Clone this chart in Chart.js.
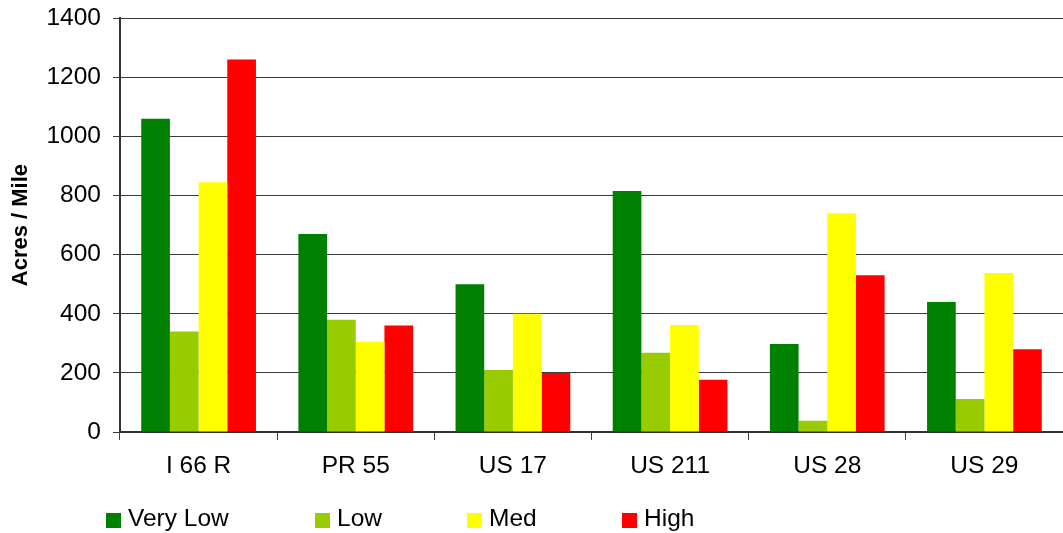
<!DOCTYPE html>
<html>
<head>
<meta charset="utf-8">
<script src="https://cdn.jsdelivr.net/npm/chart.js@4/dist/chart.umd.min.js"></script>
<style>
  html, body { margin: 0; padding: 0; background: #fff; }
  #wrap { width: 1063px; height: 533px; position: relative; }
</style>
</head>
<body>
<div id="wrap"><canvas id="chart"></canvas></div>
<script>
// routes and acreage per mile by class
const routes = ["I 66 R", "PR 55", "US 17", "US 211", "US 28", "US 29"];
const veryLow = [1060, 670, 500, 815, 298, 440];
const low = [340, 380, 210, 268, 38, 112];
const med = [845, 305, 400, 362, 740, 538];
const high = [1260, 360, 200, 177, 530, 280];
const classNames = ["Very Low", "Low", "Med", "High"];
const classColors = ["#008000", "#99CC00", "#FFFF00", "#FF0000"];

const font = "'Liberation Sans', Arial, sans-serif";
const legendX = [106, 315, 467, 622];

// legend row drawn under the category labels
const bottomLegend = {
  id: "bottomLegend",
  afterDraw(chart) {
    const ctx = chart.ctx;
    ctx.save();
    ctx.font = "24.5px " + font;
    ctx.textBaseline = "middle";
    chart.data.datasets.forEach((ds, i) => {
      const x = legendX[i];
      ctx.fillStyle = ds.backgroundColor;
      ctx.fillRect(x, 513, 15, 15);
      ctx.fillStyle = "#000";
      ctx.fillText(ds.label, x + 22, 519);
    });
    ctx.restore();
  }
};

const series = [veryLow, low, med, high];

new Chart(document.getElementById("chart"), {
  type: "bar",
  data: {
    labels: routes,
    datasets: series.map((vals, i) => ({
      label: classNames[i],
      data: vals,
      backgroundColor: classColors[i],
      borderWidth: 0,
      categoryPercentage: 0.73,
      barPercentage: 1
    }))
  },
  options: {
    responsive: true,
    maintainAspectRatio: false,
    animation: false,
    layout: { padding: { top: 17, right: 0, bottom: 0, left: 0 } },
    plugins: {
      legend: { display: false },
      tooltip: { enabled: false }
    },
    scales: {
      x: {
        grid: {
          offset: true,
          drawOnChartArea: false,
          drawTicks: true,
          tickLength: 8,
          color: "#444"
        },
        border: { color: "#333", width: 2 },
        ticks: {
          color: "#000",
          font: { family: font, size: 24.5 },
          padding: 12
        },
        afterFit(scale) { scale.height = 101; }
      },
      y: {
        min: 0,
        max: 1400,
        ticks: {
          stepSize: 200,
          color: "#000",
          font: { family: font, size: 24.5, lineHeight: 0.5 },
          padding: 12,
          callback: (v) => String(v)
        },
        grid: {
          color: "#3a3a3a",
          tickLength: 7
        },
        border: { color: "#333", width: 2 },
        title: {
          display: true,
          text: "Acres / Mile",
          color: "#000",
          font: { family: font, size: 22, weight: "bold" },
          padding: { top: 8, bottom: 0 }
        },
        afterFit(scale) { scale.width = 120; }
      }
    }
  },
  plugins: [bottomLegend]
});
</script>
</body>
</html>
